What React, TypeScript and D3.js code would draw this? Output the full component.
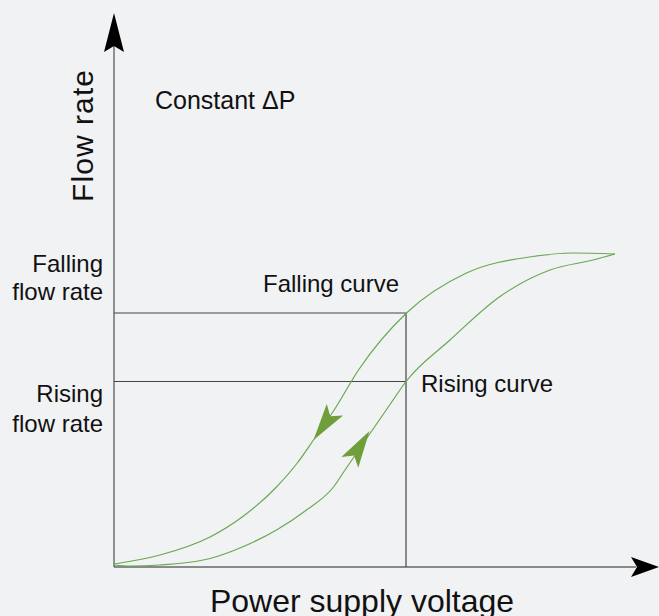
import React from "react";
import * as d3 from "d3";

// hysteresis loop, voltage (x) vs flow (y), arbitrary units 0..10
const fallingCurve: [number, number][] = [
  [0, 0.04], [0.92, 0.22], [1.92, 0.58], [2.59, 1.0], [3.25, 1.58], [3.65, 2.04],
  [3.99, 2.52], [4.39, 3.1], [4.89, 3.92], [5.85, 5.06], [7.05, 5.86], [8.38, 6.19],
  [9.18, 6.26], [10.02, 6.24],
];
const risingCurve: [number, number][] = [
  [0, 0.02], [0.32, 0.0], [0.92, 0.02], [1.92, 0.15], [2.59, 0.39], [3.25, 0.72],
  [3.85, 1.12], [4.39, 1.58], [4.62, 1.92], [4.82, 2.21], [5.12, 2.65], [5.52, 3.23],
  [5.84, 3.69], [6.72, 4.52], [7.72, 5.39], [8.72, 5.92], [9.58, 6.12], [10.02, 6.24],
];
const operatingVoltage = 5.84;
const fallingFlow = 5.06;
const risingFlow = 3.69;
// arrow heads: [tipX, tipY, baseX, baseY]
const arrowMarks: [number, number, number, number][] = [
  [3.99, 2.52, 4.43, 3.14],
  [5.11, 2.7, 4.72, 2.08],
];

const W = 659;
const H = 616;
const FONT = "'Liberation Sans', Arial, sans-serif";

export default function App() {
  const x = d3.scaleLinear().domain([0, 10]).range([114, 614]);
  const y = d3.scaleLinear().domain([0, 10]).range([566, 66]);
  const line = d3
    .line<[number, number]>()
    .x(d => x(d[0]))
    .y(d => y(d[1]))
    .curve(d3.curveMonotoneX);

  const x0 = x(0);
  const y0 = y(0) + 1;

  const arrowHead = (tx: number, ty: number, bx0: number, by0: number) => {
    const ax = x(tx), ay = y(ty);
    const bx = x(bx0), by = y(by0);
    const ang = Math.atan2(ay - by, ax - bx);
    const len = 37, half = 10, notch = 29;
    const ux = Math.cos(ang), uy = Math.sin(ang);
    const px = -uy, py = ux;
    const p1 = [ax - ux * len + px * half, ay - uy * len + py * half];
    const p2 = [ax - ux * notch, ay - uy * notch];
    const p3 = [ax - ux * len - px * half, ay - uy * len - py * half];
    return `M${ax},${ay}L${p1[0]},${p1[1]}L${p2[0]},${p2[1]}L${p3[0]},${p3[1]}Z`;
  };

  return (
    <svg width={W} height={H} style={{ position: "absolute", left: 0, top: 0 }}>
      <rect width={W} height={H} fill="#f1f2f4" />
      {/* axes */}
      <line x1={x0} y1={y0} x2={x0} y2={44} stroke="#666" strokeWidth={1.4} />
      <path d={`M${x0},13L${x0 + 10},52L${x0},46L${x0 - 10},52Z`} fill="#000" />
      <line x1={x0} y1={y0} x2={636} y2={y0} stroke="#666" strokeWidth={1.4} />
      <path d={`M659,${y0}L631,${y0 - 10}L637,${y0}L631,${y0 + 10}Z`} fill="#000" />

      {/* reference lines */}
      <line x1={x0} y1={y(fallingFlow)} x2={x(operatingVoltage)} y2={y(fallingFlow)} stroke="#444" strokeWidth={1.2} />
      <line x1={x0} y1={y(risingFlow)} x2={x(operatingVoltage)} y2={y(risingFlow)} stroke="#444" strokeWidth={1.2} />
      <line x1={x(operatingVoltage)} y1={y(fallingFlow)} x2={x(operatingVoltage)} y2={y0} stroke="#444" strokeWidth={1.2} />

      {/* curves */}
      <path d={line(fallingCurve) || ""} fill="none" stroke="#6aa84f" strokeWidth={1.2} />
      <path d={line(risingCurve) || ""} fill="none" stroke="#6aa84f" strokeWidth={1.2} />
      {arrowMarks.map((a, i) => (
        <path key={i} d={arrowHead(a[0], a[1], a[2], a[3])} fill="#6f9e3a" />
      ))}

      {/* labels */}
      <g fontFamily={FONT} fill="#111">
        <text transform="translate(93,136) rotate(-90)" textAnchor="middle" fontSize={30} textLength={132} lengthAdjust="spacing">Flow rate</text>
        <text x={155} y={109} fontSize={25}>Constant ΔP</text>
        <text x={103} y={272} fontSize={24} textAnchor="end">Falling</text>
        <text x={103} y={300} fontSize={24} textAnchor="end">flow rate</text>
        <text x={103} y={402} fontSize={24} textAnchor="end">Rising</text>
        <text x={103} y={432} fontSize={24} textAnchor="end">flow rate</text>
        <text x={263} y={292} fontSize={24}>Falling curve</text>
        <text x={421} y={392} fontSize={24}>Rising curve</text>
        <text x={362} y={612} fontSize={32} textAnchor="middle">Power supply voltage</text>
      </g>
    </svg>
  );
}
